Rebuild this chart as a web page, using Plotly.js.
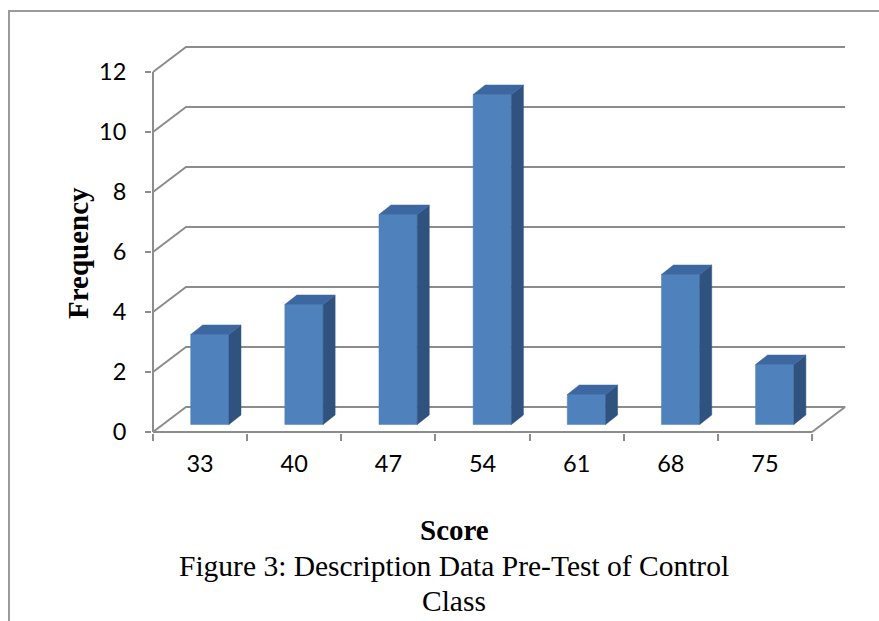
<!DOCTYPE html>
<html>
<head>
<meta charset="utf-8">
<script src="https://cdn.plot.ly/plotly-3.0.1.min.js"></script>
<style>html,body{margin:0;padding:0;background:#fff}#chart{width:879px;height:621px}</style>
</head>
<body>
<div id="chart"></div>
<script>
// ---- data ----
const scores = ['33', '40', '47', '54', '61', '68', '75'];
const frequency = [3, 4, 7, 11, 1, 5, 2];
const yTickVals = [0, 2, 4, 6, 8, 10, 12];
const yTickText = ['0', '2', '4', '6', '8', '10', '12'];
const xAxisTitle = 'Score';
const yAxisTitle = 'Frequency';
const captionLine1 = 'Figure 3: Description Data Pre-Test of Control';
const captionLine2 = 'Class';

// ---- 3D look (in axis units) ----
const PX_PER_X = 94.15, PX_PER_Y = 30;
const WALL_DX = 33 / PX_PER_X, WALL_DY = 25 / PX_PER_Y;   // depth of the back wall
const BAR_OFF_X = 9.75 / PX_PER_X, BAR_OFF_Y = 7.5 / PX_PER_Y; // bar front plane
const BAR_W = 38.3 / PX_PER_X;
const SIDE_DX = 12 / PX_PER_X, SIDE_DY = 9.5 / PX_PER_Y;
const n = scores.length;
const xLo = -0.5, xHi = n - 0.5;
const yMax = yTickVals[yTickVals.length - 1];

const GRID = '#8c8c8c';
const FRONT = '#4F81BD', SIDE = '#30527F', TOP = '#3D67A0';

// grid / wall lines
const gx = [], gy = [];
yTickVals.forEach(v => {
  gx.push(xLo, xLo + WALL_DX, xHi + WALL_DX); gy.push(v, v + WALL_DY, v + WALL_DY);
  if (v === 0) { gx.push(xHi); gy.push(0); }
  gx.push(null); gy.push(null);
});
// front axis lines
gx.push(xLo, xLo, null, xLo, xHi, null);
gy.push(yMax, 0, null, 0, 0, null);

const fx = [], fy = [], sx = [], sy = [], tx = [], ty = [];
frequency.forEach((v, i) => {
  const xl = i + BAR_OFF_X - BAR_W / 2, xr = xl + BAR_W;
  const yb = BAR_OFF_Y, yt = v + BAR_OFF_Y;
  fx.push(xl, xr, xr, xl, xl, null); fy.push(yb, yb, yt, yt, yb, null);
  sx.push(xr, xr + SIDE_DX, xr + SIDE_DX, xr, xr, null);
  sy.push(yb, yb + SIDE_DY, yt + SIDE_DY, yt, yb, null);
  tx.push(xl, xr, xr + SIDE_DX, xl + SIDE_DX, xl, null);
  ty.push(yt, yt, yt + SIDE_DY, yt + SIDE_DY, yt, null);
});

const poly = (x, y, c) => ({
  type: 'scatter', mode: 'lines', x: x, y: y, fill: 'toself', fillcolor: c,
  line: {color: c, width: 0.5}, hoverinfo: 'skip', showlegend: false
});

const traces = [
  {type: 'scatter', mode: 'lines', x: gx, y: gy, line: {color: GRID, width: 2},
   hoverinfo: 'skip', showlegend: false, connectgaps: false},
  poly(fx, fy, FRONT), poly(sx, sy, SIDE), poly(tx, ty, TOP)
];

const boundaries = [];
for (let i = 0; i <= n; i++) boundaries.push(i - 0.5);
const cats = scores.map((s, i) => i);

const L = 152, R = 33, T = 40, B = 188;
const plotW = 879 - L - R, plotH = 621 - T - B;
const x0 = xLo - 1 / PX_PER_X;
const y0 = -1 / PX_PER_Y;
const px2paperX = px => (px - L) / plotW;
const py2paperY = py => (621 - B - py) / plotH;

const layout = {
  width: 879, height: 621,
  margin: {l: L, r: R, t: T, b: B},
  paper_bgcolor: '#fff', plot_bgcolor: 'rgba(0,0,0,0)',
  hovermode: false,
  font: {family: 'Lato, sans-serif', color: '#000'},
  xaxis: {
    range: [x0, x0 + plotW / PX_PER_X], showgrid: false, zeroline: false, showline: false,
    tickmode: 'array', tickvals: cats, ticktext: scores, ticks: '',
    tickfont: {family: 'Lato, sans-serif', size: 23.5, color: '#000'},
    ticklabelstandoff: 14,
    minor: {tickmode: 'array', tickvals: boundaries, ticks: 'outside', ticklen: 7,
            tickwidth: 2, tickcolor: GRID, showgrid: false},
    fixedrange: true
  },
  yaxis: {
    range: [y0, y0 + plotH / PX_PER_Y], showgrid: false, zeroline: false, showline: false,
    tickmode: 'array', tickvals: yTickVals, ticktext: yTickText,
    ticks: 'outside', ticklen: 6, tickwidth: 2, tickcolor: GRID,
    tickfont: {family: 'Lato, sans-serif', size: 23.5, color: '#000'},
    ticklabelstandoff: 14,
    fixedrange: true
  },
  shapes: [{
    type: 'rect', xref: 'paper', yref: 'paper',
    x0: px2paperX(9), x1: px2paperX(884), y0: py2paperY(626), y1: py2paperY(11),
    line: {color: '#9a9a9a', width: 2}, fillcolor: 'rgba(0,0,0,0)', layer: 'below'
  }],
  annotations: [
    {text: yAxisTitle, xref: 'paper', yref: 'paper', x: px2paperX(78), y: py2paperY(253),
     textangle: -90, showarrow: false, xanchor: 'center', yanchor: 'middle',
     font: {family: 'Liberation Serif, serif', size: 29, weight: 'bold', color: '#000'}},
    {text: xAxisTitle, xref: 'paper', yref: 'paper', x: px2paperX(454), y: py2paperY(530),
     showarrow: false, xanchor: 'center', yanchor: 'middle',
     font: {family: 'Liberation Serif, serif', size: 29, weight: 'bold', color: '#000'}},
    {text: captionLine1, xref: 'paper', yref: 'paper', x: px2paperX(454), y: py2paperY(566),
     showarrow: false, xanchor: 'center', yanchor: 'middle',
     font: {family: 'Liberation Serif, serif', size: 29.5, color: '#000'}},
    {text: captionLine2, xref: 'paper', yref: 'paper', x: px2paperX(454), y: py2paperY(601),
     showarrow: false, xanchor: 'center', yanchor: 'middle',
     font: {family: 'Liberation Serif, serif', size: 29.5, color: '#000'}}
  ]
};

Plotly.newPlot('chart', traces, layout, {displayModeBar: false, staticPlot: true});
</script>
</body>
</html>
